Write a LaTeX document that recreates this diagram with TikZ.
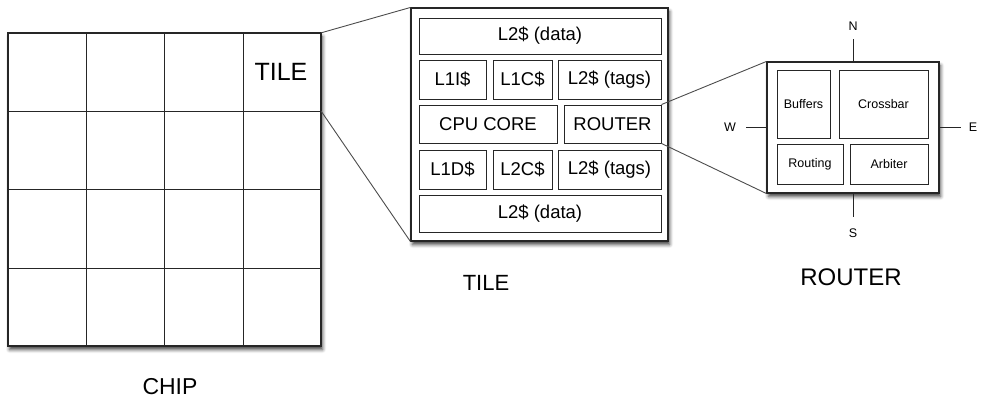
\documentclass[tikz,border=0pt]{standalone}
\usepackage{fontspec}
\setmainfont{Liberation Sans}
\usetikzlibrary{shadows.blur}

\tikzset{
  panel/.style={draw=black!85, line width=1.1pt, fill=white, inner sep=0pt,
    blur shadow={shadow xshift=1.5pt, shadow yshift=-3.5pt,
      shadow blur radius=3.5pt, shadow opacity=75}},
  unit/.style={draw=black!85, line width=0.9pt, fill=white, inner sep=0pt,
    font=\fontsize{18.5}{20}\selectfont},
  runit/.style={draw=black!85, line width=0.9pt, fill=white, inner sep=0pt,
    font=\fontsize{12.5}{14}\selectfont},
  gridline/.style={draw=black!85, line width=0.9pt},
  zoomline/.style={draw=black!70, line width=0.9pt},
  portline/.style={draw=black!85, line width=0.9pt},
  portlabel/.style={font=\fontsize{12.5}{14}\selectfont, inner sep=0pt},
  caption/.style={inner sep=0pt},
}

\begin{document}
\begin{tikzpicture}[x=1pt, y=-1pt]
  \useasboundingbox (0,0) rectangle (984,400);

  % ---------- chip: 4x4 grid of tiles ----------
  \node[panel, minimum width=313pt, minimum height=313pt] (chip) at (164.5,189.5) {};
  \foreach \gx in {86,164,243} \draw[gridline] (\gx,33) -- (\gx,346);
  \foreach \gy in {111,189,268} \draw[gridline] (8,\gy) -- (321,\gy);
  \node[draw=none, minimum width=78pt, minimum height=78pt, inner sep=0pt] (tilecell) at (282,72) {};
  \node[inner sep=0pt, font=\fontsize{25}{27}\selectfont] (tilecelltext) at (281,72) {TILE};
  \node[caption, font=\fontsize{23}{25}\selectfont] (chipcap) at (170,387) {CHIP};

  % ---------- tile, with zoom lines from the chip ----------
  \node[panel, minimum width=257pt, minimum height=233pt] (tile) at (539.5,124.5) {};
  \draw[zoomline] (tilecell.north east) -- (tile.north west);
  \draw[zoomline] (tilecell.south east) -- (tile.south west);

  % ---------- tile contents ----------
  \node[unit, minimum width=242pt, minimum height=36pt] (data1) at (540,36) {L2\$ (data)};
  \node[unit, minimum width=67pt, minimum height=39pt] (l1i) at (452.5,79.5) {L1I\$};
  \node[unit, minimum width=59pt, minimum height=39pt] (l1c) at (522.5,79.5) {L1C\$};
  \node[unit, minimum width=103pt, minimum height=39pt] (tags1) at (609.5,79.5) {L2\$ (tags)};
  \node[unit, minimum width=138pt, minimum height=38pt] (cpu) at (488,124) {CPU CORE};
  \node[unit, minimum width=97pt, minimum height=38pt] (rtr) at (612.5,124) {ROUTER};
  \node[unit, minimum width=67pt, minimum height=39pt] (l1d) at (452.5,169.5) {L1D\$};
  \node[unit, minimum width=59pt, minimum height=39pt] (l2c) at (522.5,169.5) {L2C\$};
  \node[unit, minimum width=103pt, minimum height=39pt] (tags2) at (609.5,169.5) {L2\$ (tags)};
  \node[unit, minimum width=242pt, minimum height=37pt] (data2) at (540,213.5) {L2\$ (data)};
  \node[caption, font=\fontsize{22}{24}\selectfont] (tilecap) at (486,283) {TILE};

  % ---------- router ----------
  \node[panel, minimum width=172pt, minimum height=131pt] (router) at (853,127.5) {};
  \draw[zoomline] (rtr.north east) -- (router.north west);
  \draw[zoomline] (rtr.south east) -- (router.south west);
  \node[runit, minimum width=53pt, minimum height=68pt] (buffers) at (803.5,104) {Buffers};
  \node[runit, minimum width=89pt, minimum height=68pt] (crossbar) at (883.5,104) {Crossbar};
  \node[runit, minimum width=66pt, minimum height=40pt] (routing) at (810,164) {Routing};
  \node[runit, minimum width=78pt, minimum height=40pt] (arbiter) at (889,164) {Arbiter};

  % ---------- router ports ----------
  \coordinate (pn) at (853,39);
  \coordinate (ps) at (853,217);
  \coordinate (pw) at (746,127.5);
  \coordinate (pe) at (961,127.5);
  \draw[portline] (pn) -- (router.north);
  \draw[portline] (router.south) -- (ps);
  \draw[portline] (pw) -- (router.west);
  \draw[portline] (router.east) -- (pe);
  \node[portlabel] (nlab) at (853,26) {N};
  \node[portlabel] (slab) at (853,233) {S};
  \node[portlabel] (wlab) at (730,127.5) {W};
  \node[portlabel] (elab) at (973,127.5) {E};
  \node[caption, font=\fontsize{24}{26}\selectfont] (routercap) at (851,277) {ROUTER};
\end{tikzpicture}
\end{document}
